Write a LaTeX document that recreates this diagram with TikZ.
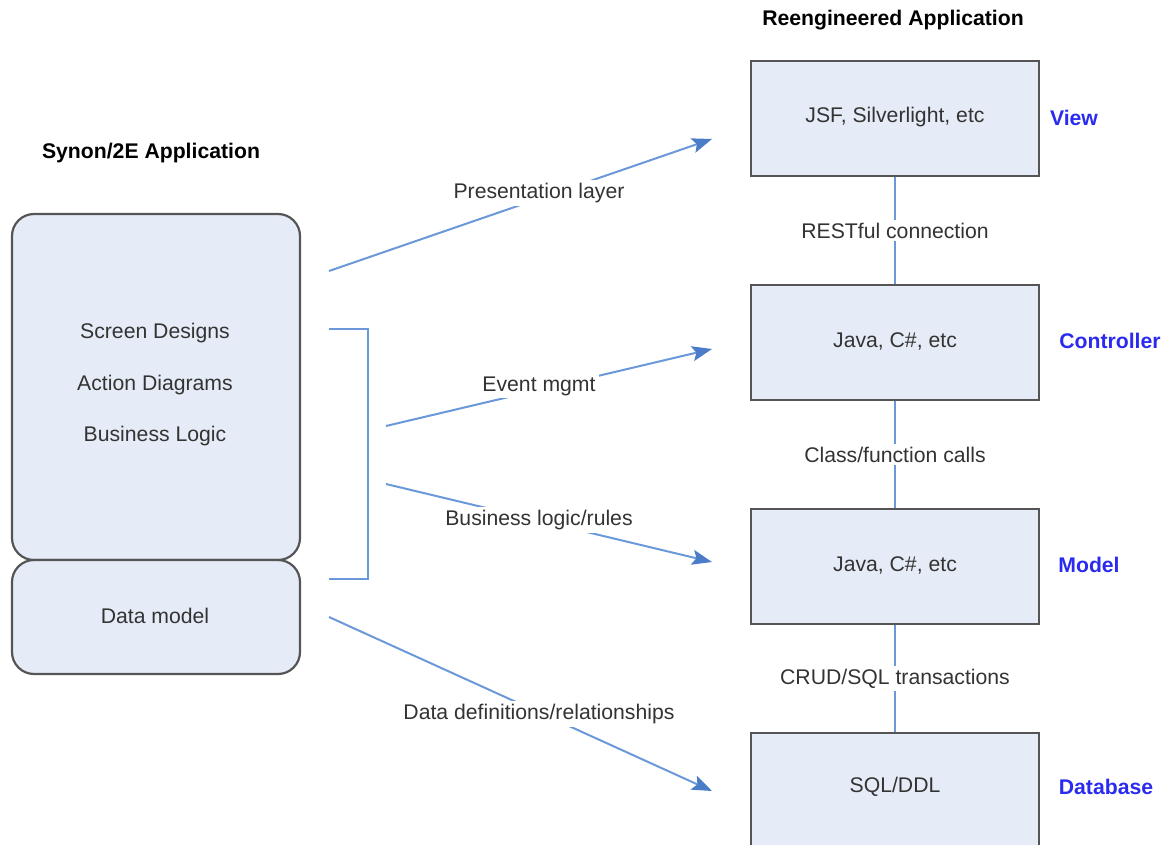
\documentclass[tikz,border=0pt]{standalone}
\usepackage{fontspec}
\setmainfont{Liberation Sans}
\usetikzlibrary{arrows.meta}
\definecolor{boxfill}{HTML}{E6ECF7}
\definecolor{boxline}{HTML}{555555}
\definecolor{conn}{HTML}{6A98D8}
\definecolor{tipc}{HTML}{4A7CC8}
\definecolor{mvc}{HTML}{2B2BF0}
\definecolor{txt}{HTML}{333333}
\tikzset{
  x=1pt, y=-1pt,
  rbox/.style={draw=boxline, line width=2.2pt, fill=boxfill, minimum width=288pt, minimum height=115pt, inner sep=0pt},
  lbox/.style={draw=boxline, line width=2.2pt, fill=boxfill, rounded corners=22pt, minimum width=288pt, inner sep=0pt},
  conline/.style={draw=conn, line width=2pt},
  arr/.style={conline, -{Stealth[length=20pt,width=15pt,inset=4pt,tipc]}},
  lab/.style={font=\fontsize{21.2}{24}\selectfont, text=txt, inner sep=1pt},
  wlab/.style={lab, fill=white, inner sep=3pt},
  ttl/.style={font=\fontsize{21.2}{24}\selectfont\bfseries, text=black},
  mvclab/.style={font=\fontsize{21.2}{24}\selectfont\bfseries, text=mvc},
}
\begin{document}
\begin{tikzpicture}
\useasboundingbox (0,0) rectangle (1164,845);
% right boxes
\begin{scope}
\clip (0,0) rectangle (1164,845);
\node[rbox] (view) at (895,118.5) {};
\node[rbox] (ctrl) at (895,342.5) {};
\node[rbox] (model) at (895,566.5) {};
\node[rbox] (db) at (895,790.5) {};
\end{scope}
\node[lab] at (895,117) {JSF, Silverlight, etc};
\node[lab] at (895,341) {Java, C\#, etc};
\node[lab] at (895,565) {Java, C\#, etc};
\node[lab] at (895,787) {SQL/DDL};
% vertical connectors
\draw[conline] (view.south) -- node[wlab] {RESTful connection} (ctrl.north);
\draw[conline] (ctrl.south) -- node[wlab] {Class/function calls} (model.north);
\draw[conline] (model.south) -- node[wlab] {CRUD/SQL transactions} (db.north);
% side labels
\node[mvclab] (vl) at (1074,118) {View};
\node[mvclab] (cl) at (1110,341) {Controller};
\node[mvclab] (ml) at (1089,565) {Model};
\node[mvclab] (dl) at (1106,787) {Database};
% titles
\node[ttl] (t1) at (151,153) {Synon/2E Application};
\node[ttl] (t2) at (893,20) {Reengineered Application};
% left boxes
\node[lbox, minimum height=346pt] (synon) at (156,387) {};
\node[lbox, minimum height=114pt] (data) at (156,617) {};
\node[lab] at (155,333) {Screen Designs};
\node[lab] at (155,385) {Action Diagrams};
\node[lab] at (155,436) {Business Logic};
\node[lab] at (155,616) {Data model};
% bracket
\coordinate (b1) at (329,329);
\coordinate (b2) at (368,329);
\coordinate (b3) at (368,579);
\coordinate (b4) at (329,579);
\draw[conline] (b1) -- (b2) -- (b3) -- (b4);
% arrows
\coordinate (a1s) at (329,271); \coordinate (a1e) at (712,139);
\coordinate (a2s) at (386,426); \coordinate (a2e) at (712,349);
\coordinate (a3s) at (386,484); \coordinate (a3e) at (712,562);
\coordinate (a4s) at (329,617); \coordinate (a4e) at (712,791);
\draw[arr] (a1s) -- (a1e);
\draw[arr] (a2s) -- (a2e);
\draw[arr] (a3s) -- (a3e);
\draw[arr] (a4s) -- (a4e);
\node[wlab] at (539,193) {Presentation layer};
\node[wlab] at (539,386) {Event mgmt};
\node[wlab] at (539,520) {Business logic/rules};
\node[wlab] at (539,714) {Data definitions/relationships};
\end{tikzpicture}
\end{document}
